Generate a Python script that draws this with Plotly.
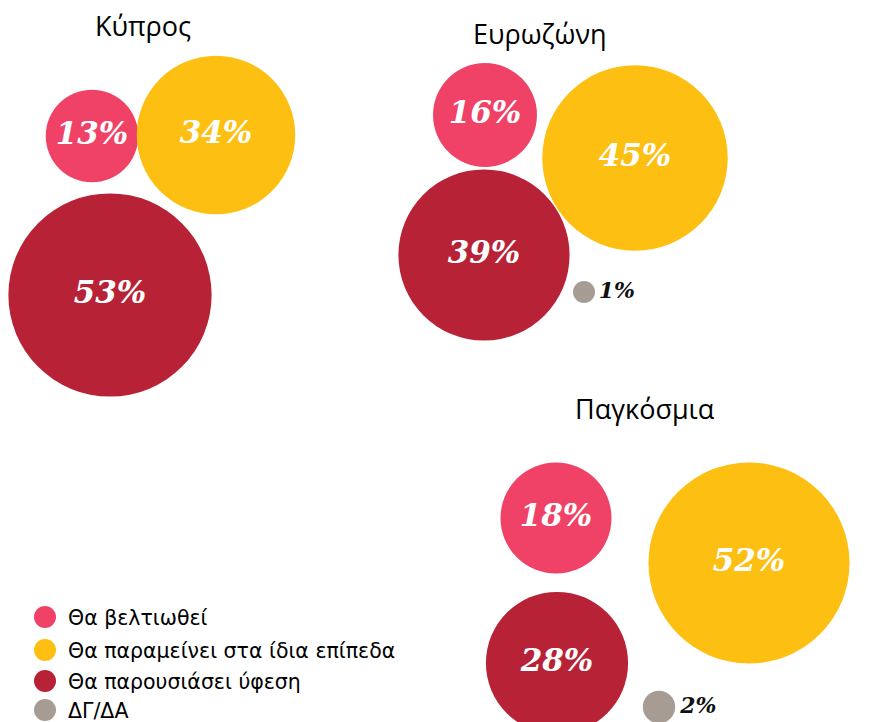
"""
Gráfico de burbujas agrupadas: expectativas económicas (Κύπρος, Ευρωζώνη, Παγκόσμια).
"""
import plotly.graph_objects as go

# Datos
CATEGORIAS = ["Θα βελτιωθεί", "Θα παραμείνει στα ίδια επίπεδα", "Θα παρουσιάσει ύφεση", "ΔΓ/ΔΑ"]
GRUPOS = ["Κύπρος", "Ευρωζώνη", "Παγκόσμια"]
KYPROS = [13, 34, 53, None]
EUROZONI = [16, 45, 39, 1]
PAGKOSMIA = [18, 52, 28, 2]
VALORES = [KYPROS, EUROZONI, PAGKOSMIA]

COLORES = ["#F04266", "#FDBF12", "#B82236", "#A79C93"]

# Disposición (px): ancla de cada grupo y centro de cada burbuja dentro del grupo
ANCLAS = [(0, 0), (400, 0), (480, 380)]
TITULO_POS = [(143, 25), (140, 33), (165, 28)]
CENTROS = [
    [(92, 136), (216, 135), (110, 295), None],
    [(85, 115), (235, 158), (84, 255), (184, 292)],
    [(76, 138), (269, 183), (77, 283), (179, 327)],
]
W, H = 878, 722


def radio(v):
    # escala de tamaño de burbuja (radio en px)
    return 11 * v ** 0.56


fig = go.Figure()

for c, cat in enumerate(CATEGORIAS):
    xs, ys, sizes, textos = [], [], [], []
    for g in range(len(GRUPOS)):
        v = VALORES[g][c]
        if v is None:
            continue
        ax, ay = ANCLAS[g]
        cx, cy = CENTROS[g][c]
        xs.append(ax + cx)
        ys.append(ay + cy)
        sizes.append(2 * radio(v))
        textos.append(f"{v}%")
    pequeño = cat == "ΔΓ/ΔΑ"
    fig.add_trace(go.Scatter(
        x=xs, y=ys,
        mode="markers+text",
        name=cat,
        marker=dict(size=sizes, sizemode="diameter", color=COLORES[c], line=dict(width=0), opacity=1),
        text=textos,
        textposition="middle right" if pequeño else "middle center",
        textfont=dict(
            family="DejaVu Serif", size=22 if pequeño else 31,
            color="#111111" if pequeño else "white",
            weight="bold", style="italic",
        ),
        hovertemplate="%{text}<extra>" + cat + "</extra>",
        showlegend=False,
    ))

# Títulos de grupo
for g, titulo in enumerate(GRUPOS):
    ax, ay = ANCLAS[g]
    tx, ty = TITULO_POS[g]
    fig.add_annotation(
        x=ax + tx, y=ay + ty, text=titulo, showarrow=False,
        xref="x", yref="y", xanchor="center", yanchor="middle",
        font=dict(family="Open Sans", size=27, color="black"),
    )

# Leyenda manual
LEYENDA_Y = [617, 650, 681, 710]
fig.add_trace(go.Scatter(
    x=[45] * len(CATEGORIAS), y=LEYENDA_Y,
    mode="markers",
    marker=dict(size=22, color=COLORES, line=dict(width=0)),
    hoverinfo="skip",
    showlegend=False,
))
for cat, y in zip(CATEGORIAS, LEYENDA_Y):
    fig.add_annotation(
        x=66, y=y + 1, text=cat, showarrow=False,
        xref="x", yref="y", xanchor="left", yanchor="middle",
        font=dict(family="DejaVu Sans", size=20.5, color="black"),
    )

fig.update_layout(
    width=W, height=H,
    margin=dict(l=0, r=0, t=0, b=0),
    paper_bgcolor="white",
    plot_bgcolor="white",
    xaxis=dict(range=[0, W], visible=False, fixedrange=True),
    yaxis=dict(range=[H, 0], visible=False, fixedrange=True),
    showlegend=False,
)

fig.write_html(
    "out.html",
    config={"displayModeBar": False},
    post_script="document.body.style.margin='0';",
)
